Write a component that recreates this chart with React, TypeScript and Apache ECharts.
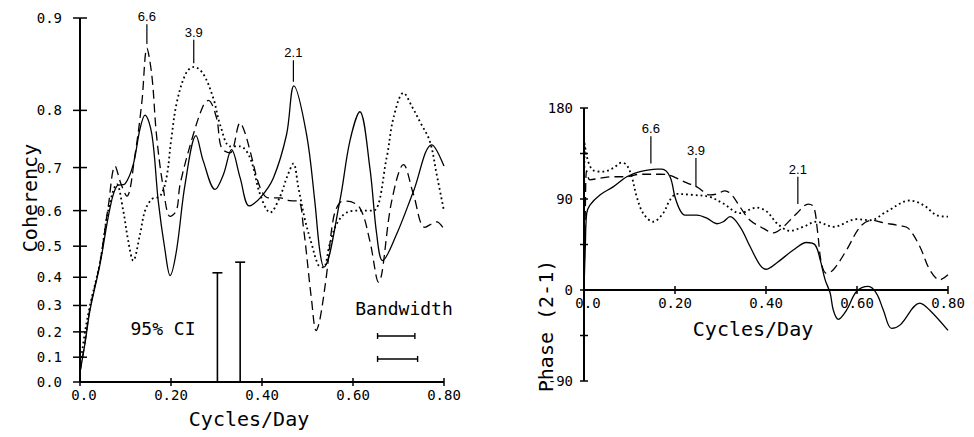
import React, { useEffect, useRef } from "react";
import * as echarts from "echarts";

// ---------- Left panel: coherency ----------
const solidCohX = [0, 0.011, 0.022, 0.044, 0.066, 0.081, 0.099, 0.117, 0.132, 0.143, 0.158, 0.172, 0.187, 0.198, 0.212, 0.231, 0.255, 0.271, 0.297, 0.315, 0.333, 0.352, 0.372, 0.396, 0.425, 0.454, 0.47, 0.498, 0.516, 0.527, 0.536, 0.571, 0.593, 0.615, 0.637, 0.652, 0.665, 0.696, 0.733, 0.773, 0.8];
const solidCohY = [0.04, 0.155, 0.283, 0.444, 0.607, 0.66, 0.665, 0.706, 0.772, 0.793, 0.762, 0.624, 0.486, 0.406, 0.486, 0.664, 0.76, 0.713, 0.652, 0.685, 0.735, 0.678, 0.612, 0.632, 0.678, 0.762, 0.833, 0.762, 0.624, 0.486, 0.434, 0.624, 0.75, 0.798, 0.7, 0.536, 0.455, 0.536, 0.648, 0.744, 0.703];

const dashedCohX = [0, 0.011, 0.022, 0.044, 0.062, 0.077, 0.09, 0.103, 0.121, 0.136, 0.147, 0.158, 0.168, 0.183, 0.198, 0.212, 0.22, 0.249, 0.271, 0.282, 0.3, 0.311, 0.33, 0.352, 0.363, 0.374, 0.396, 0.414, 0.44, 0.462, 0.48, 0.491, 0.509, 0.519, 0.527, 0.542, 0.557, 0.571, 0.586, 0.615, 0.637, 0.656, 0.685, 0.711, 0.733, 0.758, 0.784, 0.8];
const dashedCohY = [0.04, 0.16, 0.29, 0.45, 0.61, 0.703, 0.665, 0.636, 0.726, 0.812, 0.874, 0.845, 0.762, 0.656, 0.585, 0.6, 0.664, 0.762, 0.807, 0.814, 0.789, 0.738, 0.729, 0.781, 0.764, 0.732, 0.656, 0.632, 0.632, 0.625, 0.624, 0.555, 0.319, 0.205, 0.245, 0.41, 0.58, 0.62, 0.624, 0.607, 0.516, 0.383, 0.624, 0.706, 0.64, 0.555, 0.57, 0.55];

const dottedCohX = [0, 0.011, 0.022, 0.044, 0.062, 0.081, 0.095, 0.106, 0.117, 0.132, 0.143, 0.158, 0.176, 0.19, 0.2, 0.213, 0.234, 0.251, 0.271, 0.293, 0.308, 0.33, 0.352, 0.374, 0.396, 0.418, 0.44, 0.455, 0.469, 0.48, 0.495, 0.509, 0.524, 0.535, 0.549, 0.564, 0.586, 0.615, 0.645, 0.674, 0.689, 0.711, 0.73, 0.747, 0.769, 0.784, 0.8];
const dottedCohY = [0.06, 0.2, 0.3, 0.45, 0.6, 0.664, 0.6, 0.516, 0.455, 0.536, 0.6, 0.629, 0.636, 0.678, 0.75, 0.812, 0.849, 0.855, 0.847, 0.817, 0.778, 0.741, 0.741, 0.719, 0.64, 0.595, 0.636, 0.68, 0.708, 0.656, 0.573, 0.507, 0.44, 0.433, 0.507, 0.564, 0.595, 0.6, 0.6, 0.72, 0.789, 0.824, 0.805, 0.783, 0.75, 0.685, 0.599];

const cohTicks = [0, 0.1, 0.2, 0.3, 0.4, 0.5, 0.6, 0.7, 0.8, 0.9];
const freqTicks = [0, 0.2, 0.4, 0.6, 0.8];
const freqLabels = ["0.0", "0.20", "0.40", "0.60", "0.80"];

// 95% confidence limits and bandwidth bars
const ciX = [0.302, 0.352];
const ciTop = [0.415, 0.45];
const bwStart = [0.654, 0.654];
const bwEnd = [0.736, 0.742];
const bwLevel = [0.184, 0.093];

// period annotations
const annLabels = ["6.6", "3.9", "2.1"];
const leftAnnX = [0.147, 0.25, 0.469];
const leftAnnLow = [0.878, 0.859, 0.838];
const leftAnnHigh = [0.895, 0.882, 0.862];

// ---------- Right panel: phase ----------
const solidPhX = [0, 0.003, 0.006, 0.013, 0.035, 0.064, 0.094, 0.123, 0.16, 0.171, 0.189, 0.2, 0.211, 0.222, 0.248, 0.27, 0.292, 0.306, 0.321, 0.343, 0.365, 0.387, 0.4, 0.424, 0.46, 0.489, 0.508, 0.519, 0.53, 0.541, 0.548, 0.559, 0.577, 0.599, 0.625, 0.643, 0.658, 0.676, 0.695, 0.738, 0.76, 0.8];
const solidPhY = [0, 45, 76, 84, 94, 102, 112, 117, 119.5, 119.5, 112, 92, 79, 74, 74, 71, 65.5, 67.5, 72.5, 62.5, 43, 24.5, 20.5, 27, 39.5, 47, 44.5, 30, 10, -3, -20, -29, -20, -1.5, 3.5, -3.5, -20, -38, -34.5, -13, -20, -40];

const dashedPhX = [0, 0.003, 0.006, 0.013, 0.035, 0.064, 0.094, 0.123, 0.167, 0.189, 0.211, 0.226, 0.248, 0.277, 0.292, 0.31, 0.325, 0.343, 0.365, 0.394, 0.416, 0.438, 0.468, 0.493, 0.505, 0.513, 0.522, 0.533, 0.548, 0.577, 0.607, 0.632, 0.658, 0.695, 0.713, 0.738, 0.76, 0.782, 0.8];
const dashedPhY = [0, 80, 118, 109, 110.5, 112, 112, 114.5, 114.5, 113.5, 109, 106, 102, 94, 95, 98, 94, 82, 69, 61, 56.5, 62.5, 76, 85, 82, 59, 26, 16.5, 20, 39.5, 62.5, 69, 66.5, 63.5, 61, 43, 20, 10, 15];

const dottedPhX = [0, 0.002, 0.006, 0.02, 0.042, 0.064, 0.083, 0.094, 0.105, 0.116, 0.13, 0.152, 0.174, 0.189, 0.204, 0.24, 0.277, 0.306, 0.343, 0.379, 0.402, 0.424, 0.453, 0.482, 0.511, 0.548, 0.599, 0.629, 0.665, 0.716, 0.746, 0.775, 0.8];
const dottedPhY = [45, 145, 132, 118.5, 117, 120.5, 126, 123.5, 112, 92, 76, 67.5, 76, 89, 95, 94, 92, 85.5, 76, 81.5, 77.5, 66, 58.5, 62.5, 67.5, 62.5, 70, 69, 77.5, 88.5, 84, 74, 72.5];

const phaseTicks = [-90, -45, 0, 45, 90, 135, 180];
const phaseLabels = [-90, 0, 90, 180];
const rightAnnX = [0.147, 0.246, 0.47];
const rightAnnLow = [125, 102, 85];
const rightAnnHigh = [152, 130.5, 112];

const MONO = '"DejaVu Sans Mono", "Liberation Mono", monospace';
const SANS = '"Liberation Sans", Arial, sans-serif';
const BLACK = "#000";

const z = (c: number) => Math.atanh(c);
const ident = (v: number) => v;

// left panel: 364 px for 0..0.9, plus a 4 px margin below zero
const LEFT_TOP = 18;
const LEFT_H = 364;
const LEFT_PAD = 4;

export default function App() {
  const ref = useRef<HTMLDivElement>(null);

  useEffect(() => {
    if (!ref.current) return;
    const chart = echarts.init(ref.current, undefined, { renderer: "svg" });

    const hiddenBits = {
      splitLine: { show: false },
      axisLine: { show: false },
      axisTick: { show: false },
    };

    const xAxisBase = (grid: number) => ({
      type: "value",
      gridIndex: grid,
      min: 0,
      max: 0.8,
      interval: 0.2,
      ...hiddenBits,
      axisLabel: { show: false },
    });

    const cohAxis = {
      type: "value",
      gridIndex: 0,
      min: (-LEFT_PAD * z(0.9)) / LEFT_H,
      max: z(0.9),
      ...hiddenBits,
      axisLabel: {
        customValues: cohTicks.map(z),
        formatter: (v: number) => Math.tanh(v).toFixed(1),
        color: BLACK,
        fontFamily: MONO,
        fontSize: 14,
        margin: 18,
      },
    };

    const phaseAxis = {
      type: "value",
      gridIndex: 1,
      min: -90,
      max: 180,
      interval: 45,
      ...hiddenBits,
      axisLabel: {
        customValues: phaseLabels,
        formatter: (v: number) => String(v),
        color: BLACK,
        fontFamily: MONO,
        fontSize: 14,
        margin: 11,
      },
    };

    const lineSeries = (
      idx: number,
      xs: number[],
      ys: number[],
      kind: "solid" | "dashed" | "dotted",
      tf: (v: number) => number
    ) => ({
      type: "line",
      xAxisIndex: idx,
      yAxisIndex: idx,
      data: xs.map((x, i) => [x, tf(ys[i])]),
      smooth: 0.35,
      symbol: "none",
      silent: true,
      lineStyle: {
        color: BLACK,
        width: kind === "dotted" ? 1.8 : 1.3,
        type: kind === "solid" ? "solid" : kind === "dashed" ? [9, 5] : [1.8, 3],
      },
    });

    // axis frame: vertical axis plus horizontal axis at value 0, with crossing ticks and x labels
    const axisFrame = (
      idx: number,
      yMin: number,
      yMax: number,
      yTicks: number[],
      yLen: number,
      tf: (v: number) => number
    ) => ({
      type: "custom",
      xAxisIndex: idx,
      yAxisIndex: idx,
      clip: false,
      silent: true,
      z: 10,
      data: [[0, tf(yMin), 0.8, tf(yMax)]],
      encode: { x: [0, 2], y: [1, 3] },
      renderItem: (_p: any, api: any) => {
        const st = { stroke: BLACK, lineWidth: 2 };
        const o = api.coord([0, 0]);
        const b = api.coord([0, api.value(1)]);
        const t = api.coord([0, api.value(3)]);
        const r = api.coord([api.value(2), 0]);
        const children: any[] = [
          { type: "line", shape: { x1: b[0], y1: b[1], x2: t[0], y2: t[1] }, style: st },
          {
            type: "rect",
            shape: { x: o[0], y: o[1] - 1, width: r[0] - o[0], height: 2 },
            style: { fill: BLACK, stroke: null },
          },
        ];
        yTicks.forEach((v) => {
          const p = api.coord([0, tf(v)]);
          children.push({
            type: "rect",
            shape: { x: p[0] - yLen, y: p[1] - 0.75, width: 2 * yLen, height: 1.5 },
            style: { fill: BLACK, stroke: null },
          });
        });
        freqTicks.forEach((v, i) => {
          const p = api.coord([v, 0]);
          children.push({
            type: "rect",
            shape: { x: p[0] - 0.75, y: p[1] - 4, width: 1.5, height: 8 },
            style: { fill: BLACK, stroke: null },
          });
          children.push({
            type: "text",
            x: p[0] + (i === 0 ? 4 : 0),
            y: p[1] + 13,
            style: {
              text: freqLabels[i],
              fill: BLACK,
              font: `14px ${MONO}`,
              textAlign: "center",
              textVerticalAlign: "middle",
            },
          });
        });
        return { type: "group", children };
      },
    });

    const annSeries = (
      idx: number,
      xs: number[],
      lows: number[],
      highs: number[],
      tf: (v: number) => number
    ) => ({
      type: "custom",
      xAxisIndex: idx,
      yAxisIndex: idx,
      clip: false,
      silent: true,
      data: xs.map((x, i) => [x, tf(lows[i]), tf(highs[i]), i]),
      encode: { x: 0, y: [1, 2] },
      renderItem: (_p: any, api: any) => {
        const p1 = api.coord([api.value(0), api.value(1)]);
        const p2 = api.coord([api.value(0), api.value(2)]);
        return {
          type: "group",
          children: [
            {
              type: "line",
              shape: { x1: p1[0], y1: p1[1], x2: p2[0], y2: p2[1] },
              style: { stroke: BLACK, lineWidth: 1.2 },
            },
            {
              type: "text",
              x: p2[0],
              y: p2[1] - 1,
              style: {
                text: annLabels[api.value(3)],
                fill: BLACK,
                font: `13px ${SANS}`,
                textAlign: "center",
                textVerticalAlign: "bottom",
              },
            },
          ],
        };
      },
    });

    const ciSeries = {
      type: "custom",
      xAxisIndex: 0,
      yAxisIndex: 0,
      silent: true,
      data: ciX.map((x, i) => [x, z(ciTop[i])]),
      encode: { x: 0, y: 1 },
      renderItem: (_p: any, api: any) => {
        const base = api.coord([api.value(0), 0]);
        const top = api.coord([api.value(0), api.value(1)]);
        return {
          type: "group",
          children: [
            {
              type: "line",
              shape: { x1: base[0], y1: base[1], x2: top[0], y2: top[1] },
              style: { stroke: BLACK, lineWidth: 1.6 },
            },
            {
              type: "line",
              shape: { x1: top[0] - 5, y1: top[1], x2: top[0] + 5, y2: top[1] },
              style: { stroke: BLACK, lineWidth: 1.6 },
            },
          ],
        };
      },
    };

    const bwSeries = {
      type: "custom",
      xAxisIndex: 0,
      yAxisIndex: 0,
      silent: true,
      data: bwStart.map((x, i) => [x, bwEnd[i], z(bwLevel[i])]),
      encode: { x: [0, 1], y: 2 },
      renderItem: (_p: any, api: any) => {
        const a = api.coord([api.value(0), api.value(2)]);
        const b = api.coord([api.value(1), api.value(2)]);
        return {
          type: "group",
          children: [
            { type: "line", shape: { x1: a[0], y1: a[1], x2: b[0], y2: b[1] }, style: { stroke: BLACK, lineWidth: 1.4 } },
            { type: "line", shape: { x1: a[0], y1: a[1] - 3, x2: a[0], y2: a[1] + 3 }, style: { stroke: BLACK, lineWidth: 1.4 } },
            { type: "line", shape: { x1: b[0], y1: b[1] - 3, x2: b[0], y2: b[1] + 3 }, style: { stroke: BLACK, lineWidth: 1.4 } },
          ],
        };
      },
    };

    chart.setOption({
      animation: false,
      backgroundColor: "#fff",
      grid: [
        { left: 80, top: LEFT_TOP, width: 364, height: LEFT_H + LEFT_PAD },
        { left: 584, top: 108, width: 364, height: 273 },
      ],
      xAxis: [xAxisBase(0), xAxisBase(1)],
      yAxis: [cohAxis, phaseAxis],
      series: [
        lineSeries(0, solidCohX, solidCohY, "solid", z),
        lineSeries(0, dashedCohX, dashedCohY, "dashed", z),
        lineSeries(0, dottedCohX, dottedCohY, "dotted", z),
        annSeries(0, leftAnnX, leftAnnLow, leftAnnHigh, z),
        ciSeries,
        bwSeries,
        axisFrame(0, 0, 0.9, cohTicks, 7, z),
        lineSeries(1, solidPhX, solidPhY, "solid", ident),
        lineSeries(1, dashedPhX, dashedPhY, "dashed", ident),
        lineSeries(1, dottedPhX, dottedPhY, "dotted", ident),
        annSeries(1, rightAnnX, rightAnnLow, rightAnnHigh, ident),
        axisFrame(1, -90, 180, phaseTicks, 4, ident),
      ],
      graphic: [
        {
          type: "text",
          x: 30,
          y: 198,
          rotation: Math.PI / 2,
          style: { text: "Coherency", fill: BLACK, font: `20px ${MONO}`, textAlign: "center", textVerticalAlign: "middle" },
        },
        {
          type: "text",
          x: 249,
          y: 419,
          style: { text: "Cycles/Day", fill: BLACK, font: `20px ${MONO}`, textAlign: "center", textVerticalAlign: "middle" },
        },
        {
          type: "text",
          x: 753,
          y: 329,
          style: { text: "Cycles/Day", fill: BLACK, font: `20px ${MONO}`, textAlign: "center", textVerticalAlign: "middle" },
        },
        {
          type: "text",
          x: 546,
          y: 326,
          rotation: Math.PI / 2,
          style: { text: "Phase (2-1)", fill: BLACK, font: `20px ${MONO}`, textAlign: "center", textVerticalAlign: "middle" },
        },
        {
          type: "text",
          x: 163,
          y: 328,
          style: { text: "95% CI", fill: BLACK, font: `18px ${MONO}`, textAlign: "center", textVerticalAlign: "middle" },
        },
        {
          type: "text",
          x: 404,
          y: 308,
          style: { text: "Bandwidth", fill: BLACK, font: `18px ${MONO}`, textAlign: "center", textVerticalAlign: "middle" },
        },
      ],
    });

    return () => chart.dispose();
  }, []);

  return (
    <div
      ref={ref}
      style={{ position: "fixed", left: 0, top: 0, width: 974, height: 437, background: "#fff" }}
    />
  );
}
